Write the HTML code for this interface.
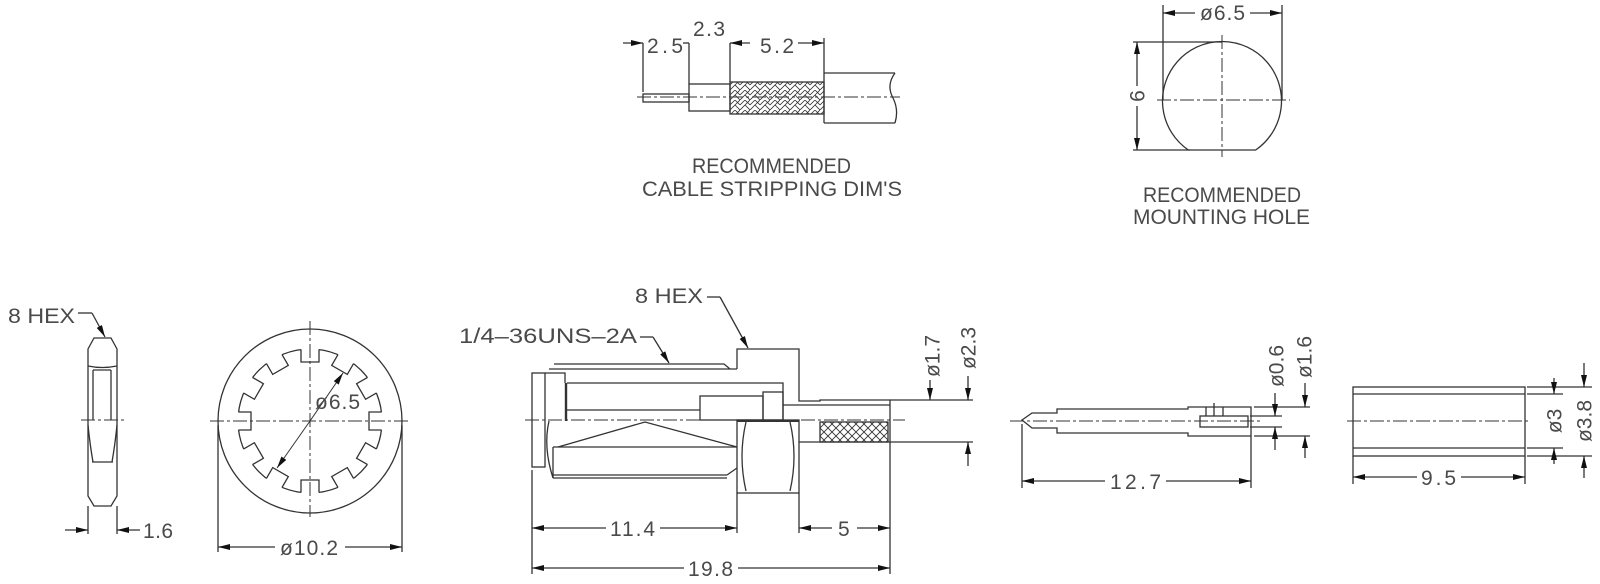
<!DOCTYPE html>
<html><head><meta charset="utf-8"><style>
html,body{margin:0;padding:0;background:#fff;}
svg{display:block;}
text{font-family:"Liberation Sans",sans-serif;fill:#4a4a4a;font-size:21px;}
</style></head><body>
<svg width="1600" height="584" viewBox="0 0 1600 584" xmlns="http://www.w3.org/2000/svg">
<defs>
<marker id="a" viewBox="0 0 12 8" refX="12" refY="4" markerWidth="12" markerHeight="8" markerUnits="userSpaceOnUse" orient="auto"><path d="M0,1 L12,4 L0,7z" fill="#111"/></marker>
<pattern id="braid" width="10" height="10" patternUnits="userSpaceOnUse"><path d="M0,10 L5,5 L10,10 M0,5 L5,0 L10,5 M5,5 L10,0" stroke="#333" stroke-width="0.8" fill="none"/></pattern>
<pattern id="xh" width="8" height="8" patternUnits="userSpaceOnUse"><path d="M0,0 L8,8 M8,0 L0,8" stroke="#333" stroke-width="0.9" fill="none"/></pattern>
</defs>
<g stroke="#333" stroke-width="1.3" fill="none">

<!-- ===== CABLE STRIPPING ===== -->
<line x1="637" y1="97" x2="900" y2="97" stroke-dasharray="14 3 3 3" stroke-width="1"/>
<rect x="643" y="94" width="46" height="8"/>
<rect x="689" y="84" width="41" height="27"/>
<rect x="730" y="82" width="94" height="32" fill="url(#braid)"/>
<path d="M824,73 L895,73 M824,123 L895,123 M824,73 L824,123 M895,73 Q886,85 893,98 Q899,110 895,123"/>
<line x1="643" y1="43" x2="643" y2="92"/>
<line x1="689" y1="43" x2="689" y2="84"/>
<line x1="730" y1="43" x2="730" y2="82"/>
<line x1="824" y1="38" x2="824" y2="73"/>
<line x1="623" y1="43" x2="643" y2="43" marker-end="url(#a)"/>
<line x1="683" y1="43" x2="689" y2="43"/>
<line x1="750" y1="43" x2="730" y2="43" marker-end="url(#a)"/>
<line x1="798" y1="43" x2="824" y2="43" marker-end="url(#a)"/>

<!-- ===== MOUNTING HOLE ===== -->
<path d="M1188.3,150 A59.5,59.5 0 1 1 1255.7,150 Z"/>
<line x1="1157" y1="100" x2="1290" y2="100" stroke-dasharray="14 3 3 3" stroke-width="1"/>
<line x1="1222" y1="35" x2="1222" y2="157" stroke-dasharray="14 3 3 3" stroke-width="1"/>
<line x1="1163" y1="5" x2="1163" y2="100"/>
<line x1="1282" y1="5" x2="1282" y2="100"/>
<line x1="1195" y1="13" x2="1163" y2="13" marker-end="url(#a)"/>
<line x1="1250" y1="13" x2="1282" y2="13" marker-end="url(#a)"/>
<line x1="1133" y1="42" x2="1222" y2="42"/>
<line x1="1133" y1="150" x2="1190" y2="150"/>
<line x1="1137" y1="86" x2="1137" y2="42" marker-end="url(#a)"/>
<line x1="1137" y1="106" x2="1137" y2="150" marker-end="url(#a)"/>

<!-- ===== NUT SIDE ===== -->
<path d="M94,338 L111,338 L117,349 L117,496 L111,506 L94,506 L88,496 L88,349 Z"/>
<path d="M88,366 Q102,369 117,366"/>
<line x1="93" y1="370" x2="111" y2="370"/>
<line x1="93" y1="370" x2="93" y2="420"/>
<line x1="111" y1="370" x2="111" y2="420"/>
<path d="M88,425 Q90,445 93,462 M117,425 Q115,445 112,462"/>
<line x1="92" y1="462" x2="113" y2="462"/>
<line x1="81" y1="420" x2="125" y2="420" stroke-dasharray="14 3 3 3" stroke-width="1"/>
<path d="M78,313 L92,313"/>
<line x1="92" y1="313" x2="105" y2="337" marker-end="url(#a)"/>
<line x1="88" y1="506" x2="88" y2="534"/>
<line x1="117" y1="506" x2="117" y2="534"/>
<line x1="65" y1="530" x2="88" y2="530" marker-end="url(#a)"/>
<line x1="140" y1="530" x2="117" y2="530" marker-end="url(#a)"/>

<!-- ===== WASHER ===== -->
<circle cx="310" cy="421" r="92"/>
<circle cx="310" cy="421" r="72"/>
<g id="notch">
<rect x="301.2" y="346" width="17.6" height="6" fill="#fff" stroke="none"/>
<path d="M301,349.6 L301,362 L319,362 L319,349.6"/>
</g>
<use href="#notch" transform="rotate(30 310 421)"/>
<use href="#notch" transform="rotate(60 310 421)"/>
<use href="#notch" transform="rotate(90 310 421)"/>
<use href="#notch" transform="rotate(120 310 421)"/>
<use href="#notch" transform="rotate(150 310 421)"/>
<use href="#notch" transform="rotate(180 310 421)"/>
<use href="#notch" transform="rotate(210 310 421)"/>
<use href="#notch" transform="rotate(240 310 421)"/>
<use href="#notch" transform="rotate(270 310 421)"/>
<use href="#notch" transform="rotate(300 310 421)"/>
<use href="#notch" transform="rotate(330 310 421)"/>
<line x1="210" y1="421" x2="410" y2="421" stroke-dasharray="14 3 3 3" stroke-width="1"/>
<line x1="310" y1="321" x2="310" y2="517" stroke-dasharray="14 3 3 3" stroke-width="1"/>
<line x1="310" y1="421" x2="343" y2="373" marker-end="url(#a)" stroke-width="1"/>
<line x1="310" y1="421" x2="277" y2="468" marker-end="url(#a)" stroke-width="1"/>
<line x1="218" y1="425" x2="218" y2="552"/>
<line x1="402" y1="425" x2="402" y2="552"/>
<line x1="275" y1="547" x2="218" y2="547" marker-end="url(#a)"/>
<line x1="345" y1="547" x2="402" y2="547" marker-end="url(#a)"/>

<!-- ===== CONNECTOR ===== -->
<rect x="532" y="373" width="13" height="94"/>
<path d="M545,373 L565,373 L565,383"/>
<line x1="566" y1="383" x2="566" y2="421" stroke-width="2.4"/>
<path d="M549,369 L728,369 L737,369 M554,364 L724,364 L730,369"/>
<path d="M737,369 L737,349 L799,349 L799,401 L820,401 L820,400 L890,400 L890,442"/>
<path d="M567,383 L783,383 L783,420"/>
<line x1="567" y1="410" x2="700" y2="410"/>
<rect x="700" y="396" width="63" height="24"/>
<rect x="763" y="392" width="20" height="28"/>
<line x1="783" y1="405" x2="890" y2="405"/>
<path d="M549,421 Q543,447 553,478"/>
<line x1="553" y1="447" x2="737" y2="447"/>
<line x1="553" y1="475" x2="727" y2="475"/>
<line x1="553" y1="478" x2="727" y2="478"/>
<line x1="553" y1="447" x2="553" y2="478"/>
<path d="M727,475 L737,468"/>
<path d="M558,447 L645,422 L737,447"/>
<rect x="737" y="420" width="62" height="73"/>
<path d="M746,422 Q738,456 746,491 M790,422 Q798,456 790,491"/>
<line x1="737" y1="421" x2="799" y2="421" stroke-width="2"/>
<rect x="820" y="422" width="68" height="20" fill="url(#xh)"/>
<line x1="799" y1="442" x2="973" y2="442"/>
<line x1="890" y1="400" x2="973" y2="400"/>
<line x1="525" y1="420" x2="905" y2="420" stroke-dasharray="14 3 3 3" stroke-width="1"/>
<line x1="930" y1="380" x2="930" y2="400" marker-end="url(#a)"/>
<line x1="968" y1="376" x2="968" y2="400" marker-end="url(#a)"/>
<line x1="968" y1="466" x2="968" y2="442" marker-end="url(#a)"/>
<path d="M707,297 L720,297"/>
<line x1="720" y1="297" x2="748" y2="348" marker-end="url(#a)"/>
<path d="M640,337 L653,337"/>
<line x1="653" y1="337" x2="669" y2="363" marker-end="url(#a)"/>
<line x1="532" y1="470" x2="532" y2="574"/>
<line x1="737" y1="493" x2="737" y2="533"/>
<line x1="799" y1="493" x2="799" y2="533"/>
<line x1="890" y1="442" x2="890" y2="574"/>
<line x1="606" y1="528" x2="532" y2="528" marker-end="url(#a)"/>
<line x1="660" y1="528" x2="737" y2="528" marker-end="url(#a)"/>
<line x1="832" y1="528" x2="799" y2="528" marker-end="url(#a)"/>
<line x1="857" y1="528" x2="890" y2="528" marker-end="url(#a)"/>
<line x1="684" y1="568" x2="532" y2="568" marker-end="url(#a)"/>
<line x1="738" y1="568" x2="890" y2="568" marker-end="url(#a)"/>

<!-- ===== PIN ===== -->
<path d="M1022,420 L1032,413 L1057,413 L1057,409 L1188,409 L1188,407 L1251,407 L1251,436 L1188,436 L1188,433 L1057,433 L1057,428 L1032,428 Z"/>
<rect x="1200" y="416" width="48" height="11"/>
<line x1="1206" y1="407" x2="1206" y2="416"/>
<line x1="1214" y1="403" x2="1214" y2="416"/>
<line x1="1223" y1="407" x2="1223" y2="416"/>
<line x1="1010" y1="421" x2="1262" y2="421" stroke-dasharray="14 3 3 3" stroke-width="1"/>
<line x1="1254" y1="407" x2="1310" y2="407"/>
<line x1="1250" y1="416" x2="1282" y2="416"/>
<line x1="1250" y1="427" x2="1282" y2="427"/>
<line x1="1254" y1="436" x2="1310" y2="436"/>
<line x1="1275" y1="393" x2="1275" y2="416" marker-end="url(#a)"/>
<line x1="1275" y1="450" x2="1275" y2="427" marker-end="url(#a)"/>
<line x1="1305" y1="383" x2="1305" y2="407" marker-end="url(#a)"/>
<line x1="1305" y1="458" x2="1305" y2="436" marker-end="url(#a)"/>
<line x1="1022" y1="424" x2="1022" y2="488"/>
<line x1="1251" y1="436" x2="1251" y2="488"/>
<line x1="1105" y1="481" x2="1022" y2="481" marker-end="url(#a)"/>
<line x1="1166" y1="481" x2="1251" y2="481" marker-end="url(#a)"/>

<!-- ===== SLEEVE ===== -->
<rect x="1353" y="387" width="172" height="69"/>
<line x1="1353" y1="394" x2="1525" y2="394"/>
<line x1="1353" y1="448" x2="1525" y2="448"/>
<line x1="1347" y1="421" x2="1530" y2="421" stroke-dasharray="14 3 3 3" stroke-width="1"/>
<line x1="1527" y1="387" x2="1592" y2="387"/>
<line x1="1527" y1="394" x2="1563" y2="394"/>
<line x1="1527" y1="448" x2="1563" y2="448"/>
<line x1="1527" y1="456" x2="1592" y2="456"/>
<line x1="1554" y1="378" x2="1554" y2="394" marker-end="url(#a)"/>
<line x1="1554" y1="464" x2="1554" y2="448" marker-end="url(#a)"/>
<line x1="1584" y1="363" x2="1584" y2="387" marker-end="url(#a)"/>
<line x1="1584" y1="478" x2="1584" y2="456" marker-end="url(#a)"/>
<line x1="1353" y1="456" x2="1353" y2="484"/>
<line x1="1525" y1="456" x2="1525" y2="484"/>
<line x1="1417" y1="477" x2="1353" y2="477" marker-end="url(#a)"/>
<line x1="1461" y1="477" x2="1525" y2="477" marker-end="url(#a)"/>
</g>

<!-- ===== TEXT ===== -->
<text x="647" y="53" textLength="36">2.5</text>
<text x="693" y="36" textLength="32">2.3</text>
<text x="760" y="53" textLength="34">5.2</text>
<text x="692" y="173" textLength="159" lengthAdjust="spacingAndGlyphs">RECOMMENDED</text>
<text x="642" y="196" textLength="260" lengthAdjust="spacingAndGlyphs">CABLE  STRIPPING  DIM'S</text>
<text x="1143" y="202" textLength="158" lengthAdjust="spacingAndGlyphs">RECOMMENDED</text>
<text x="1133" y="224" textLength="177" lengthAdjust="spacingAndGlyphs">MOUNTING  HOLE</text>
<text x="1200" y="20" textLength="45">ø6.5</text>
<text transform="translate(1138,96) rotate(-90)" text-anchor="middle" dominant-baseline="central">6</text>

<text x="8" y="323" textLength="67" lengthAdjust="spacingAndGlyphs">8  HEX</text>
<text x="143" y="538" textLength="30">1.6</text>
<text x="315" y="409" textLength="45">ø6.5</text>
<text x="280" y="555" textLength="58">ø10.2</text>

<text x="635" y="303" textLength="68" lengthAdjust="spacingAndGlyphs">8  HEX</text>
<text x="459" y="343" textLength="178" lengthAdjust="spacingAndGlyphs">1/4–36UNS–2A</text>
<text transform="translate(933,356) rotate(-90)" text-anchor="middle" dominant-baseline="central">ø1.7</text>
<text transform="translate(969,348) rotate(-90)" text-anchor="middle" dominant-baseline="central">ø2.3</text>
<text x="610" y="536" textLength="45">11.4</text>
<text x="838" y="536">5</text>
<text x="688" y="576" textLength="45">19.8</text>

<text transform="translate(1277,366) rotate(-90)" text-anchor="middle" dominant-baseline="central">ø0.6</text>
<text transform="translate(1305,357) rotate(-90)" text-anchor="middle" dominant-baseline="central">ø1.6</text>
<text x="1110" y="489" textLength="51">12.7</text>

<text transform="translate(1555,421) rotate(-90)" text-anchor="middle" dominant-baseline="central">ø3</text>
<text transform="translate(1585,421) rotate(-90)" text-anchor="middle" dominant-baseline="central">ø3.8</text>
<text x="1421" y="485" textLength="35">9.5</text>
</svg>
</body></html>
